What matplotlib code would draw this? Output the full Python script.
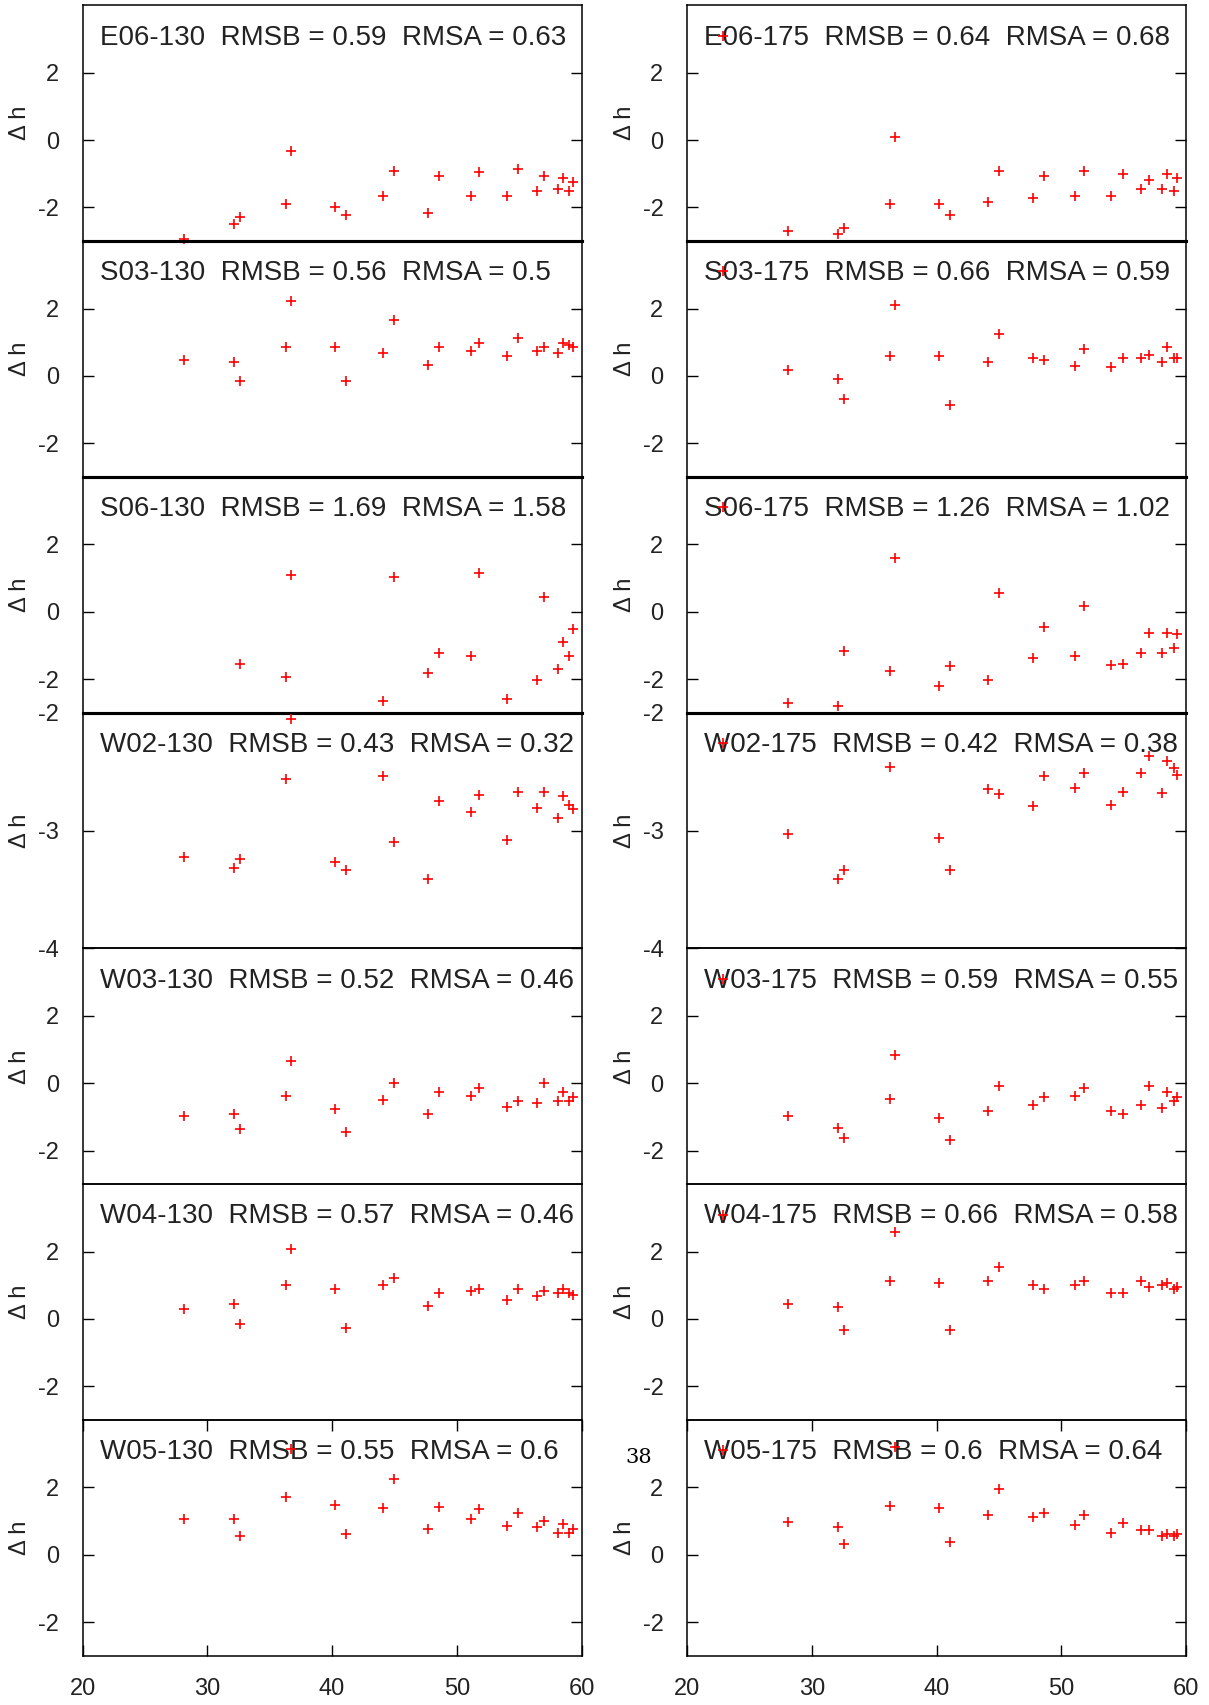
import matplotlib
matplotlib.use("Agg")
import matplotlib.pyplot as plt
from matplotlib.lines import Line2D
import numpy as np

nan = np.nan

# ---------------- data ----------------
x = [28.1, 32.1, 32.6, 36.3, 36.7, 40.2, 41.1, 44.1, 45.0, 47.7, 48.6,
     51.1, 51.8, 54.0, 54.9, 56.4, 57.0, 58.1, 58.5, 59.0, 59.3]

stations = ["E06", "S03", "S06", "W02", "W03", "W04", "W05"]

rmsb_130 = ["0.59", "0.56", "1.69", "0.43", "0.52", "0.57", "0.55"]
rmsa_130 = ["0.63", "0.5", "1.58", "0.32", "0.46", "0.46", "0.6"]
rmsb_175 = ["0.64", "0.66", "1.26", "0.42", "0.59", "0.66", "0.6"]
rmsa_175 = ["0.68", "0.59", "1.02", "0.38", "0.55", "0.58", "0.64"]

E06_130 = [-2.95, -2.49, -2.27, -1.89, -0.32, -2.00, -2.23, -1.67, -0.91, -2.16, -1.07,
           -1.67, -0.96, -1.67, -0.86, -1.51, -1.06, -1.45, -1.11, -1.51, -1.23]
E06_175 = [-2.71, -2.78, -2.62, -1.89, 0.08, -1.89, -2.22, -1.84, -0.91, -1.73, -1.07,
           -1.67, -0.91, -1.67, -1.01, -1.45, -1.18, -1.45, -1.01, -1.51, -1.13]
S03_130 = [0.47, 0.41, -0.15, 0.85, 2.23, 0.85, -0.15, 0.68, 1.67, 0.31, 0.85,
           0.74, 0.97, 0.59, 1.12, 0.74, 0.85, 0.68, 0.97, 0.91, 0.85]
S03_175 = [0.19, -0.09, -0.70, 0.58, 2.11, 0.58, -0.85, 0.41, 1.23, 0.52, 0.47,
           0.30, 0.80, 0.25, 0.52, 0.52, 0.63, 0.41, 0.85, 0.52, 0.52]
S06_130 = [nan, nan, -1.55, -1.93, 1.09, nan, nan, -2.65, 1.03, -1.83, -1.22,
           -1.33, 1.15, -2.59, nan, -2.03, 0.43, -1.71, -0.89, -1.33, -0.50]
S06_175 = [-2.70, -2.80, -1.16, -1.77, 1.58, -2.21, -1.60, -2.04, 0.55, -1.38, -0.45,
           -1.33, 0.16, -1.59, -1.54, -1.22, -0.62, -1.22, -0.62, -1.09, -0.67]
W02_130 = [-3.22, -3.32, -3.24, -2.56, -2.05, -3.27, -3.33, -2.54, -3.10, -3.41, -2.75,
           -2.84, -2.70, -3.08, -2.67, -2.81, -2.67, -2.89, -2.71, -2.78, -2.82]
W02_175 = [-3.03, -3.41, -3.33, -2.46, nan, -3.06, -3.33, -2.65, -2.69, -2.79, -2.54,
           -2.64, -2.51, -2.78, -2.67, -2.51, -2.37, -2.68, -2.41, -2.47, -2.53]
W03_130 = [-0.97, -0.92, -1.36, -0.38, 0.66, -0.77, -1.46, -0.49, 0.02, -0.92, -0.26,
           -0.38, -0.15, -0.71, -0.54, -0.59, 0.02, -0.54, -0.26, -0.54, -0.42]
W03_175 = [-0.97, -1.34, -1.64, -0.47, 0.83, -1.04, -1.69, -0.81, -0.09, -0.64, -0.42,
           -0.37, -0.15, -0.81, -0.92, -0.64, -0.09, -0.75, -0.26, -0.54, -0.42]
W04_130 = [0.29, 0.45, -0.15, 1.00, 2.08, 0.89, -0.27, 1.00, 1.22, 0.40, 0.78,
           0.83, 0.89, 0.56, 0.89, 0.67, 0.83, 0.78, 0.89, 0.78, 0.72]
W04_175 = [0.45, 0.35, -0.32, 1.12, 2.58, 1.06, -0.32, 1.12, 1.54, 1.00, 0.89,
           1.00, 1.12, 0.78, 0.78, 1.12, 0.95, 1.00, 1.06, 0.89, 0.95]
W05_130 = [1.06, 1.06, 0.55, 1.71, 3.13, 1.48, 0.61, 1.39, 2.26, 0.77, 1.42,
           1.06, 1.35, 0.84, 1.23, 0.81, 1.00, 0.65, 0.90, 0.65, 0.77]
W05_175 = [0.97, 0.81, 0.32, 1.45, 3.20, 1.39, 0.39, 1.19, 1.94, 1.13, 1.23,
           0.87, 1.19, 0.65, 0.94, 0.74, 0.74, 0.55, 0.61, 0.55, 0.61]

col_130 = [E06_130, S03_130, S06_130, W02_130, W03_130, W04_130, W05_130]
col_175 = [E06_175, S03_175, S06_175, W02_175, W03_175, W04_175, W05_175]

x_ticks = [20, 30, 40, 50, 60]
y_ticks_std = [-2, 0, 2]
y_ticks_w02 = [-4, -3, -2]

# ---------------- figure ----------------
plt.rcParams['font.family'] = ['Liberation Sans', 'DejaVu Sans']
plt.rcParams['axes.unicode_minus'] = False

TXT = '#222222'
fig = plt.figure(figsize=(12.09, 17.05), dpi=100)
lefts = [0.0683, 0.5683]
width = 0.4128
top = 0.99683
bottom = 0.02885
h = (top - bottom) / 7

columns = [(col_130, "130", rmsb_130, rmsa_130), (col_175, "175", rmsb_175, rmsa_175)]
mstyle = dict(ls='none', marker='+', color='red', ms=7, mew=1.2)

for c, (cols, tag, rb, ra) in enumerate(columns):
    for r in range(7):
        ax = fig.add_axes([lefts[c], top - (r + 1) * h, width, h])
        ax.patch.set_visible(False)
        ax.plot(x, cols[r], clip_on=False, zorder=5, **mstyle)
        ax.set_xlim(20, 60)
        if stations[r] == "W02":
            ax.set_ylim(-4, -2)
            ax.set_yticks(y_ticks_w02)
        else:
            ax.set_ylim(-3, 4)
            ax.set_yticks(y_ticks_std)
        ax.tick_params(axis='y', direction='in', length=8, width=1.0, left=True,
                       right=True, labelsize=17, pad=17, labelcolor=TXT)
        ax.set_xticks(x_ticks)
        if r == 6:
            ax.tick_params(axis='x', direction='in', length=8, width=1.0, top=True,
                           bottom=True, labelsize=17, pad=16, labelcolor=TXT)
        else:
            ax.tick_params(axis='x', bottom=False, top=False, labelbottom=False)
        for s in ax.spines.values():
            s.set_linewidth(1.1)
        if r in (0, 1, 2):
            ax.spines['bottom'].set_linewidth(2.2)
        if r in (1, 2, 3):
            ax.spines['top'].set_linewidth(2.2)
        ax.set_ylabel('Δ h', fontsize=17, color=TXT)
        ax.yaxis.set_label_coords(-0.103, 0.5)
        title = f"{stations[r]}-{tag}  RMSB = {rb[r]}  RMSA = {ra[r]}"
        ax.text(0.034, 0.834, title, transform=ax.transAxes, fontsize=20,
                va='baseline', ha='left', color=TXT, zorder=4)
        if tag == "175":
            key = [Line2D([], [], **mstyle)]
            leg = ax.legend(key, [''], loc='center', bbox_to_anchor=(0.071, 0.868),
                            frameon=False, handlelength=0.0, handletextpad=0.0,
                            borderpad=0.0, borderaxespad=0.0)
            leg.set_zorder(6)

fig.text(0.5285, 0.1454, '38', family=['DejaVu Serif', 'Liberation Serif'],
         fontsize=15, ha='center', va='center', color='black')

fig.savefig('out.png', dpi=100)
